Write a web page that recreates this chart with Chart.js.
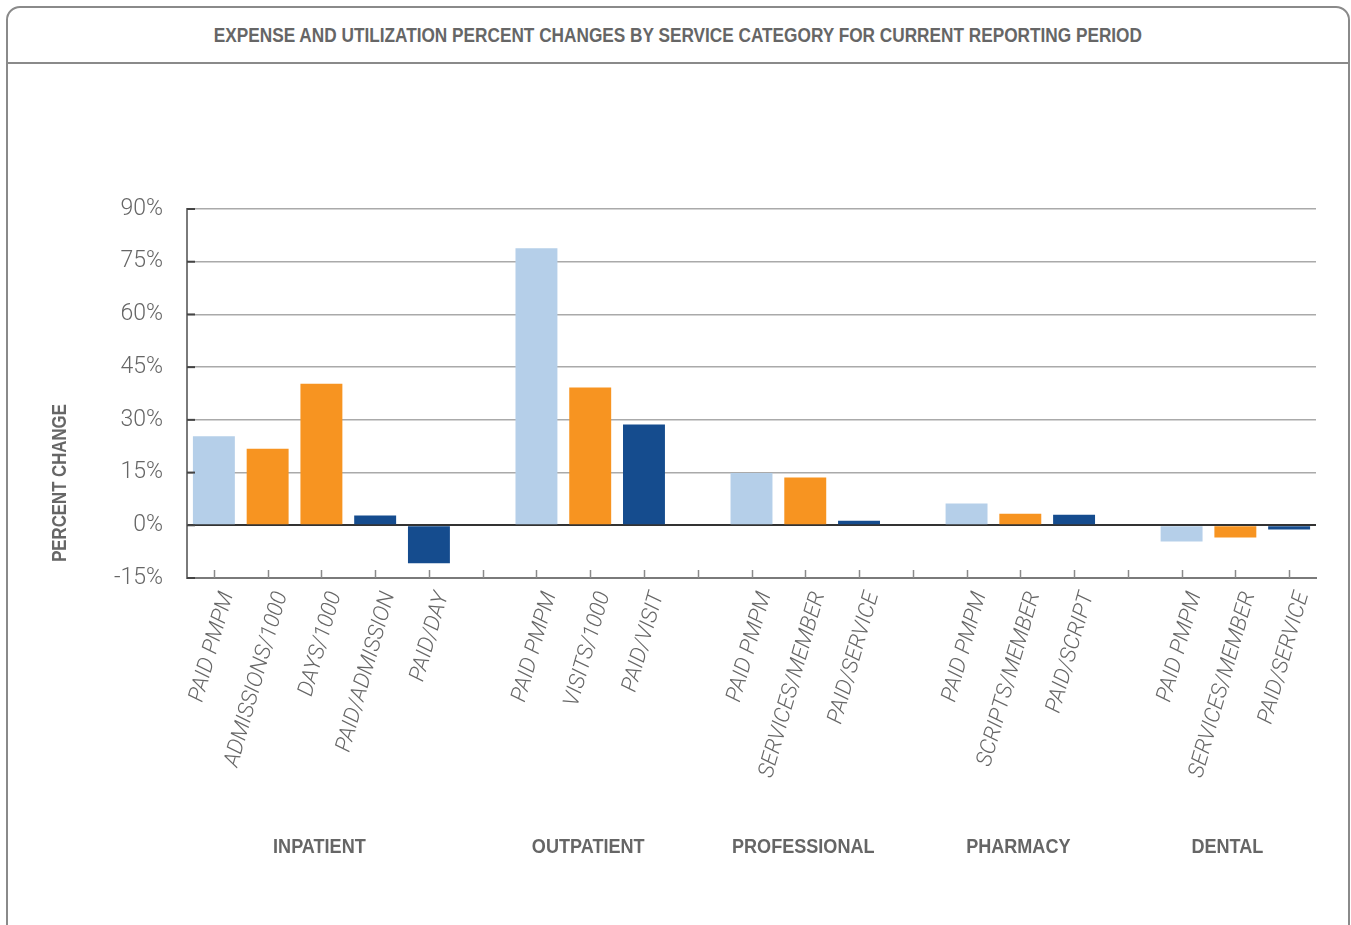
<!DOCTYPE html>
<html lang="en">
<head>
  <meta charset="UTF-8" />
  <title>Expense and Utilization Percent Changes</title>
  <script src="https://cdn.jsdelivr.net/npm/chart.js"></script>
  <style>
    body {
      margin: 0;
      background: #fff;
      overflow: hidden;
      font-family: "Liberation Sans", Arial, sans-serif;
    }

    .panel {
      position: absolute;
      left: 6px;
      top: 6px;
      width: 1340px;
      height: 960px;
      border: 2px solid #8a8a8a;
      border-radius: 14px;
    }

    .panel h1 {
      margin: 0;
      height: 54px;
      line-height: 54px;
      border-bottom: 2px solid #8a8a8a;
      text-align: center;
      font-size: 21px;
      font-weight: bold;
      color: #666;
    }

    /* squeeze the heading into a condensed look */
    .panel h1 span {
      display: inline-block;
      transform: scaleX(0.82);
      white-space: nowrap;
    }

    .chart-box {
      position: relative;
      width: 1340px;
      height: 861px;
    }
  </style>
</head>
<body>

  <div class="panel">
    <h1><span>EXPENSE AND UTILIZATION PERCENT CHANGES BY SERVICE CATEGORY FOR CURRENT REPORTING PERIOD</span></h1>
    <div class="chart-box">
      <canvas id="changeChart"></canvas>
    </div>
  </div>

  <script>
    // service categories and their metrics
    const groupNames = ['INPATIENT', 'OUTPATIENT', 'PROFESSIONAL', 'PHARMACY', 'DENTAL'];
    const groupMetrics = [
      ['PAID PMPM', 'ADMISSIONS/1000', 'DAYS/1000', 'PAID/ADMISSION', 'PAID/DAY'],
      ['PAID PMPM', 'VISITS/1000', 'PAID/VISIT'],
      ['PAID PMPM', 'SERVICES/MEMBER', 'PAID/SERVICE'],
      ['PAID PMPM', 'SCRIPTS/MEMBER', 'PAID/SCRIPT'],
      ['PAID PMPM', 'SERVICES/MEMBER', 'PAID/SERVICE']
    ];
    // percent change for each metric
    const groupValues = [
      [25.3, 21.8, 40.3, 2.8, -10.8],
      [78.8, 39.2, 28.7],
      [14.9, 13.6, 1.3],
      [6.2, 3.3, 3.0],
      [-4.6, -3.5, -1.2]
    ];
    // pmpm = total cost, util = utilization, unit = unit cost
    const groupKinds = [
      ['pmpm', 'util', 'util', 'unit', 'unit'],
      ['pmpm', 'util', 'unit'],
      ['pmpm', 'util', 'unit'],
      ['pmpm', 'util', 'unit'],
      ['pmpm', 'util', 'unit']
    ];
    const kindColors = { pmpm: '#b5cfe9', util: '#f79421', unit: '#154c8e' };
    const yTicks = { min: -15, max: 90, step: 15 };

    // flatten groups, leaving an empty slot between them
    const labels = [];
    const values = [];
    const colors = [];
    const groupSlots = [];
    groupNames.forEach((name, g) => {
      if (g > 0) {
        labels.push('');
        values.push(null);
        colors.push('transparent');
      }
      const slots = [];
      groupMetrics[g].forEach((m, i) => {
        slots.push(labels.length);
        labels.push(m);
        values.push(groupValues[g][i]);
        colors.push(kindColors[groupKinds[g][i]]);
      });
      groupSlots.push(slots);
    });

    const boldFont = 'bold 21px "Liberation Sans", Arial, sans-serif';

    const decor = {
      id: 'decor',
      afterDraw(chart) {
        const { ctx, chartArea } = chart;
        const xs = chart.scales.x;
        const ys = chart.scales.y;
        ctx.save();

        // short tick marks pointing up from the bottom axis
        ctx.strokeStyle = '#8a8a8a';
        ctx.lineWidth = 1.5;
        labels.forEach((_, i) => {
          const x = Math.round(xs.getPixelForTick(i)) + 0.5;
          ctx.beginPath();
          ctx.moveTo(x, chartArea.bottom - 8);
          ctx.lineTo(x, chartArea.bottom);
          ctx.stroke();
        });

        // darker stubs where gridlines meet the y axis
        ctx.strokeStyle = '#444';
        ctx.lineWidth = 2;
        ys.ticks.forEach((t, i) => {
          const y = ys.getPixelForTick(i);
          ctx.beginPath();
          ctx.moveTo(chartArea.left, y);
          ctx.lineTo(chartArea.left + 8, y);
          ctx.stroke();
        });

        // category names under each group of bars
        ctx.fillStyle = '#666';
        ctx.font = boldFont;
        ctx.textAlign = 'center';
        ctx.textBaseline = 'middle';
        groupSlots.forEach((slots, g) => {
          const xsum = slots.reduce((s, i) => s + xs.getPixelForValue(i), 0);
          ctx.save();
          ctx.translate(xsum / slots.length - (g === 4 ? 8 : 2), 783);
          ctx.scale(0.86, 1);
          ctx.fillText(groupNames[g], 0, 0);
          ctx.restore();
        });

        // y axis title
        ctx.translate(52, 419);
        ctx.rotate(-Math.PI / 2);
        ctx.scale(0.8, 1);
        ctx.fillText('PERCENT CHANGE', 0, 0);
        ctx.restore();
      }
    };

    new Chart(document.getElementById('changeChart'), {
      type: 'bar',
      data: {
        labels: labels,
        datasets: [{
          label: 'Percent change',
          data: values,
          backgroundColor: colors,
          barPercentage: 0.78,
          categoryPercentage: 1
        }]
      },
      options: {
        responsive: true,
        maintainAspectRatio: false,
        animation: false,
        layout: { padding: { top: 145, right: 32, left: 0, bottom: 0 } },
        plugins: {
          legend: { display: false },
          tooltip: { enabled: false }
        },
        scales: {
          x: {
            grid: { display: false },
            border: { color: '#7a7a7a', width: 2 },
            ticks: {
              autoSkip: false,
              minRotation: 74,
              maxRotation: 74,
              padding: 3,
              labelOffset: 14,
              color: '#666',
              font: { family: 'Roboto, "Liberation Sans", sans-serif', size: 22, style: 'italic', weight: 300 }
            },
            afterFit(scale) { scale.height = 347; }
          },
          y: {
            min: yTicks.min,
            max: yTicks.max,
            grid: {
              drawTicks: false,
              color: ctx => ctx.tick && ctx.tick.value === 0 ? '#333' : '#aaa',
              lineWidth: ctx => ctx.tick && ctx.tick.value === 0 ? 2 : 1.5
            },
            border: { color: '#7a7a7a', width: 2 },
            ticks: {
              stepSize: yTicks.step,
              padding: 24,
              color: '#666',
              font: { family: 'Roboto, "Liberation Sans", sans-serif', size: 23, weight: 300 },
              callback: v => v + '%'
            },
            afterFit(scale) { scale.width = 179; }
          }
        }
      },
      plugins: [decor]
    });
  </script>

</body>
</html>
